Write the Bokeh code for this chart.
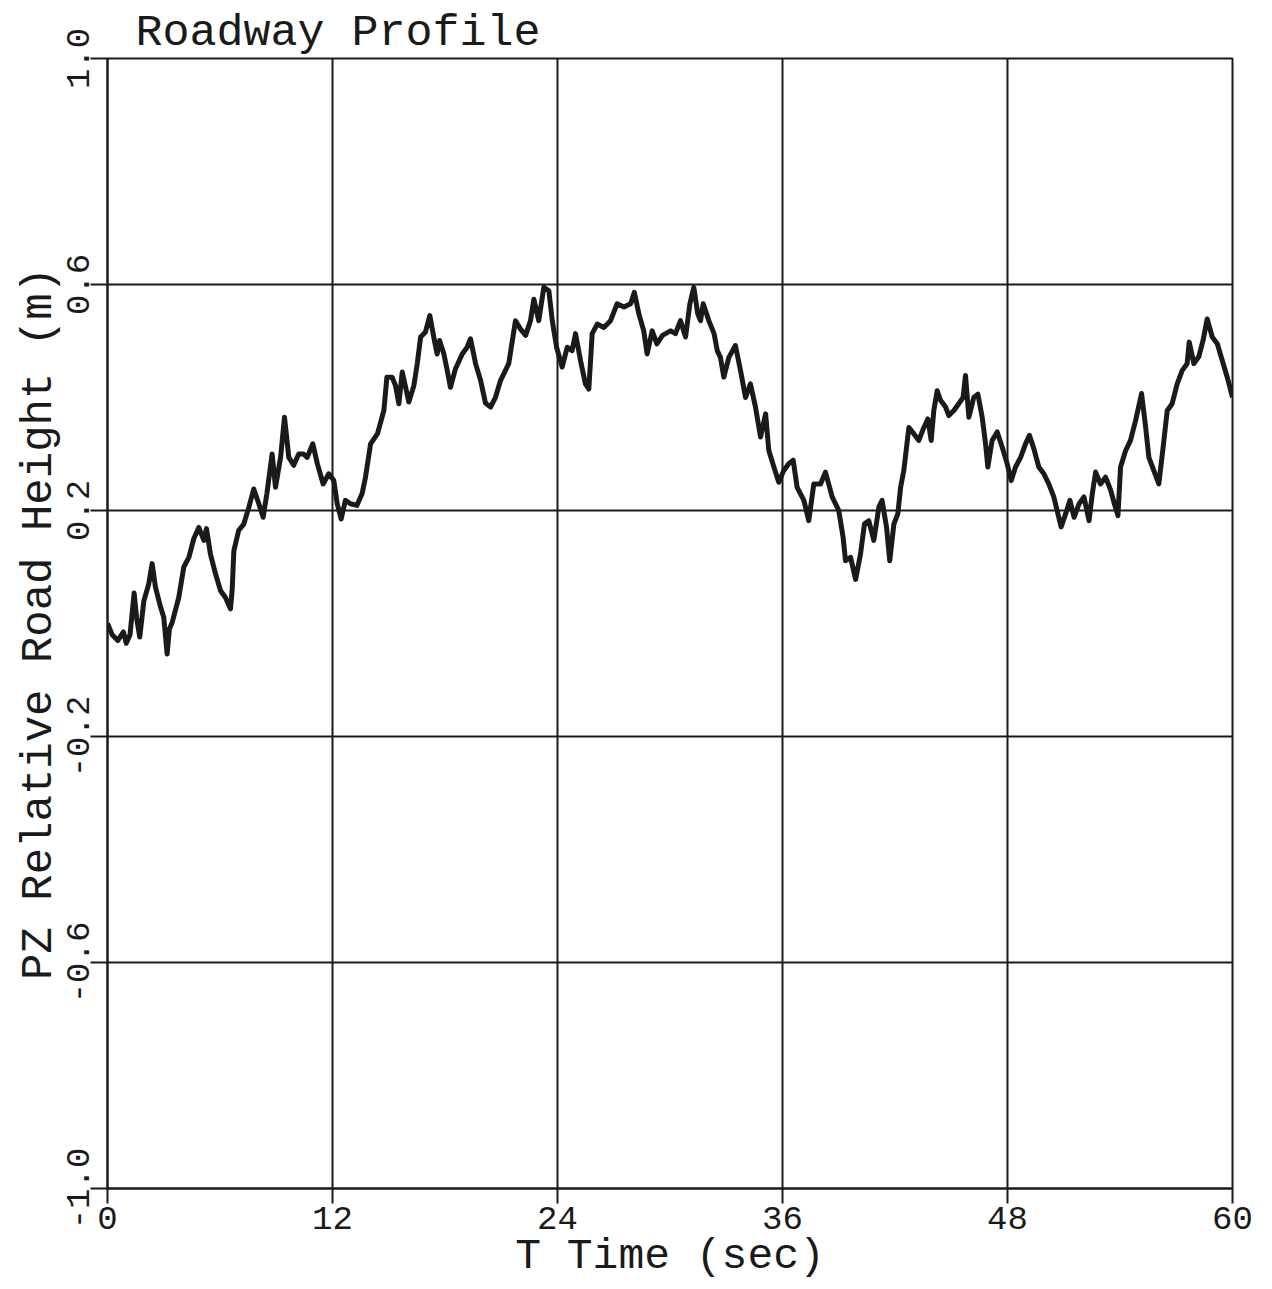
import numpy as np
from bokeh.plotting import figure
from bokeh.models import Range1d, FixedTicker, NumeralTickFormatter
from bokeh.embed import file_html
from bokeh.resources import INLINE

# ---- data ----
time_s = [0.00, 0.25, 0.55, 0.85, 1.00, 1.20, 1.42, 1.55, 1.72, 1.94, 2.20, 2.38, 2.56, 2.83, 3.00,
          3.18, 3.30, 3.45, 3.80, 4.07, 4.34, 4.60, 4.87, 5.14, 5.28, 5.49, 5.76, 6.03, 6.29, 6.56,
          6.65, 6.74, 7.00, 7.27, 7.54, 7.80, 8.07, 8.30, 8.50, 8.78, 8.96, 9.23, 9.44, 9.67, 9.93,
          10.20, 10.45, 10.65, 10.95, 11.19, 11.50, 11.80, 12.07, 12.25, 12.46, 12.69, 12.96, 13.30,
          13.58, 13.76, 14.03, 14.40, 14.74, 14.90, 15.18, 15.36, 15.54, 15.72, 15.90, 16.07, 16.34,
          16.52, 16.70, 16.96, 17.19, 17.40, 17.58, 17.71, 17.94, 18.12, 18.29, 18.56, 18.92, 19.18,
          19.36, 19.63, 19.90, 20.16, 20.43, 20.69, 20.96, 21.40, 21.76, 22.03, 22.30, 22.56, 22.74,
          23.00, 23.27, 23.54, 23.72, 23.95, 24.25, 24.52, 24.78, 24.96, 25.23, 25.49, 25.67, 25.85,
          26.12, 26.47, 26.83, 27.18, 27.54, 27.90, 28.10, 28.34, 28.60, 28.78, 29.05, 29.30, 29.60,
          30.03, 30.29, 30.56, 30.83, 31.06, 31.27, 31.48, 31.63, 31.77, 32.07, 32.35, 32.52, 32.69,
          32.87, 33.14, 33.49, 33.76, 34.03, 34.29, 34.56, 34.83, 35.10, 35.27, 35.54, 35.80, 36.07,
          36.34, 36.57, 36.78, 37.14, 37.40, 37.67, 38.03, 38.29, 38.65, 39.00, 39.23, 39.36, 39.63,
          39.90, 40.16, 40.37, 40.60, 40.87, 41.14, 41.31, 41.55, 41.72, 41.94, 42.15, 42.30, 42.47,
          42.74, 43.00, 43.27, 43.54, 43.75, 43.93, 44.07, 44.25, 44.43, 44.70, 44.87, 45.14, 45.40,
          45.63, 45.76, 45.94, 46.20, 46.42, 46.65, 46.83, 46.95, 47.18, 47.45, 47.72, 47.98, 48.20,
          48.43, 48.70, 48.96, 49.17, 49.40, 49.67, 49.94, 50.20, 50.47, 50.69, 50.86, 51.10, 51.33,
          51.55, 51.82, 52.08, 52.35, 52.52, 52.70, 52.96, 53.23, 53.50, 53.70, 53.89, 54.03, 54.30,
          54.56, 54.83, 55.15, 55.37, 55.54, 55.80, 56.07, 56.30, 56.52, 56.78, 57.05, 57.32, 57.58,
          57.69, 57.94, 58.20, 58.43, 58.65, 58.92, 59.19, 59.45, 59.72, 60.00]

road_height_m = [0.000, -0.020, -0.030, -0.015, -0.035, -0.020, 0.054, 0.010, -0.024, 0.040, 0.070,
                 0.106, 0.064, 0.029, 0.011, -0.054, -0.010, 0.002, 0.046, 0.100, 0.117, 0.150, 0.170,
                 0.147, 0.168, 0.123, 0.088, 0.058, 0.046, 0.026, 0.060, 0.129, 0.165, 0.176, 0.206,
                 0.238, 0.212, 0.188, 0.230, 0.300, 0.241, 0.294, 0.365, 0.294, 0.280, 0.300, 0.300,
                 0.294, 0.318, 0.283, 0.247, 0.265, 0.253, 0.212, 0.185, 0.218, 0.212, 0.209, 0.230,
                 0.259, 0.318, 0.336, 0.377, 0.436, 0.436, 0.421, 0.389, 0.445, 0.418, 0.392, 0.421,
                 0.460, 0.507, 0.516, 0.545, 0.507, 0.477, 0.501, 0.477, 0.448, 0.418, 0.451, 0.477,
                 0.489, 0.504, 0.460, 0.430, 0.390, 0.383, 0.400, 0.430, 0.460, 0.536, 0.521, 0.510,
                 0.536, 0.574, 0.536, 0.595, 0.589, 0.536, 0.489, 0.454, 0.489, 0.483, 0.513, 0.465,
                 0.424, 0.415, 0.513, 0.530, 0.524, 0.536, 0.566, 0.560, 0.566, 0.586, 0.548, 0.518,
                 0.477, 0.518, 0.495, 0.510, 0.518, 0.513, 0.536, 0.507, 0.566, 0.595, 0.548, 0.536,
                 0.566, 0.536, 0.513, 0.483, 0.471, 0.436, 0.471, 0.492, 0.448, 0.400, 0.424, 0.383,
                 0.330, 0.371, 0.306, 0.277, 0.250, 0.271, 0.283, 0.289, 0.241, 0.218, 0.182, 0.247,
                 0.247, 0.268, 0.224, 0.200, 0.153, 0.111, 0.117, 0.078, 0.123, 0.176, 0.182, 0.147,
                 0.206, 0.218, 0.170, 0.111, 0.176, 0.194, 0.241, 0.271, 0.347, 0.336, 0.324, 0.347,
                 0.362, 0.324, 0.377, 0.412, 0.395, 0.383, 0.368, 0.377, 0.389, 0.400, 0.439, 0.365,
                 0.400, 0.406, 0.365, 0.318, 0.277, 0.324, 0.339, 0.312, 0.283, 0.253, 0.277, 0.294,
                 0.318, 0.333, 0.310, 0.277, 0.265, 0.247, 0.224, 0.194, 0.171, 0.194, 0.218, 0.188,
                 0.212, 0.224, 0.182, 0.229, 0.268, 0.247, 0.259, 0.236, 0.212, 0.191, 0.277, 0.306,
                 0.324, 0.359, 0.407, 0.347, 0.294, 0.271, 0.247, 0.312, 0.377, 0.389, 0.424, 0.448,
                 0.460, 0.498, 0.460, 0.472, 0.501, 0.539, 0.507, 0.495, 0.466, 0.436, 0.400]

x_ticks = [0, 12, 24, 36, 48, 60]
y_ticks = [-1.0, -0.6, -0.2, 0.2, 0.6, 1.0]

title_text = "Roadway Profile"
x_label = "T Time (sec)"
y_label = "PZ Relative Road Height (m)"

FONT = "Liberation Mono"
INK = "#1a1a1a"

p = figure(width=1272, height=1289, output_backend="svg", toolbar_location=None,
           x_range=Range1d(0, 60), y_range=Range1d(-1.0, 1.0),
           min_border_left=107, min_border_right=40, min_border_top=58, min_border_bottom=101,
           title=title_text)

p.title.text_font = FONT
p.title.text_font_size = "45px"
p.title.text_font_style = "normal"
p.title.text_color = INK
p.title.align = "left"
p.title.offset = 28
p.title.standoff = 0

p.line(time_s, road_height_m, line_color=INK, line_width=5, line_join="round")

p.outline_line_color = INK
p.outline_line_width = 2
p.background_fill_color = "white"
p.border_fill_color = "white"

p.xaxis.ticker = FixedTicker(ticks=x_ticks)
p.yaxis.ticker = FixedTicker(ticks=y_ticks)
p.xaxis.formatter = NumeralTickFormatter(format="0")
p.yaxis.formatter = NumeralTickFormatter(format="0.0")
p.xaxis.minor_tick_line_color = None
p.yaxis.minor_tick_line_color = None

for ax in (p.xaxis, p.yaxis):
    ax.axis_line_color = INK
    ax.axis_line_width = 2
    ax.major_tick_line_color = INK
    ax.major_tick_line_width = 2
    ax.major_tick_in = 0
    ax.major_label_text_font = FONT
    ax.major_label_text_font_size = "34px"
    ax.major_label_text_color = INK
    ax.axis_label_text_font = FONT
    ax.axis_label_text_font_style = "normal"
    ax.axis_label_text_color = INK

p.xaxis.major_tick_out = 15
p.yaxis.major_tick_out = 17
p.xaxis.major_label_standoff = 3
p.yaxis.major_label_standoff = 2
p.yaxis.major_label_orientation = "vertical"
p.xaxis.axis_label = x_label
p.yaxis.axis_label = y_label
p.xaxis.axis_label_text_font_size = "43px"
p.yaxis.axis_label_text_font_size = "44px"
p.xaxis.axis_label_standoff = 0
p.yaxis.axis_label_standoff = 0

p.xgrid.grid_line_color = INK
p.xgrid.grid_line_width = 2
p.ygrid.grid_line_color = INK
p.ygrid.grid_line_width = 2
p.xgrid.ticker = FixedTicker(ticks=x_ticks)
p.ygrid.ticker = FixedTicker(ticks=y_ticks)

open("out.html", "w").write(file_html(p, INLINE))
